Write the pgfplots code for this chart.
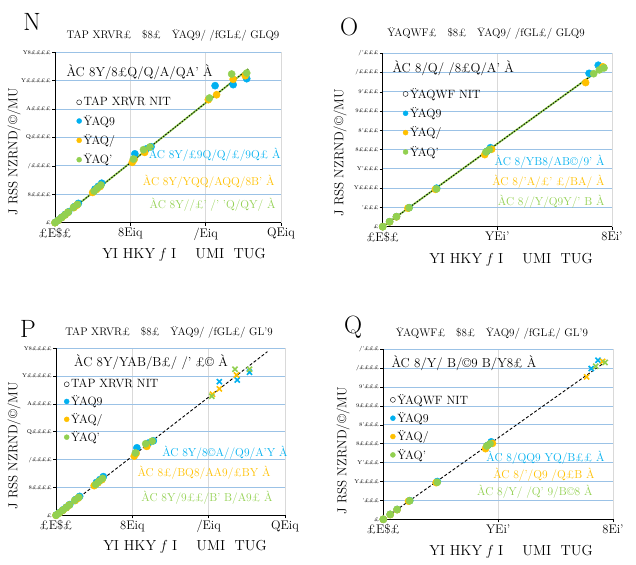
\documentclass[border=0pt]{standalone}
\usepackage{pgfplots}
\pgfplotsset{compat=1.18}
\definecolor{cblue}{RGB}{0,176,240}
\definecolor{corange}{RGB}{255,192,0}
\definecolor{cgreen}{RGB}{146,208,80}
\definecolor{hgrid}{RGB}{155,194,230}
\definecolor{vgrid}{RGB}{217,217,217}
\pgfplotsset{
 panel/.style={
  scale only axis, anchor=south west,
  axis x line*=bottom, axis y line*=left,
  axis line style={black, line width=0.8pt, -},
  tick align=outside, major tick length=3pt, tick style={black, line width=0.6pt},
  ymajorgrids, xmajorgrids,
  y grid style={hgrid, line width=0.8pt},
  x grid style={vgrid, line width=0.6pt},
  yticklabel style={font=\fontsize{5.5}{6}\selectfont, inner sep=1pt},
  xticklabel style={font=\fontsize{12.5}{14}\selectfont, inner sep=2pt},
  scaled y ticks=false, scaled x ticks=false, clip=false,
  legend style={draw=none, fill=none, font=\fontsize{12}{13}\selectfont, anchor=north west, row sep=3pt, inner sep=0pt},
  legend cell align=left,
  legend image code/.code={\draw[##1, mark size=2.5pt] plot coordinates {(0.1cm,0cm)};},
 },
 bigp/.style={xmin=0, xmax=6, ymin=0, ymax=120000, xtick={0,2,4,6},
  xticklabels={£E\$£, 8Eiq, /Eiq, QEiq},
  ytick={0,20000,40000,60000,80000,100000,120000},
  yticklabels={£, 8££££, /££££, Q££££, A££££, Y£££££, Y8££££}},
 smallp/.style={xmin=0, xmax=2, ymin=0, ymax=45000, xtick={0,1,2},
  xticklabels={£E\$£, YEi', 8Ei'},
  ytick={0,5000,10000,15000,20000,25000,30000,35000,40000,45000},
  yticklabels={£, '£££, Y££££, Y'£££, 8££££, 8'£££, 9££££, 9'£££, /££££, /'£££}},
 pb/.style={only marks, mark=*, mark size=3.6pt, mark options={draw=cblue, fill=cblue}, color=cblue},
 po/.style={only marks, mark=*, mark size=3.6pt, mark options={draw=corange, fill=corange}, color=corange},
 pg/.style={only marks, mark=*, mark size=3.6pt, mark options={draw=cgreen, fill=cgreen}, color=cgreen},
 xb/.style={only marks, mark=x, mark size=3.6pt, line width=1.6pt, color=cblue},
 xo/.style={only marks, mark=x, mark size=3.6pt, line width=1.6pt, color=corange},
 xg/.style={only marks, mark=x, mark size=3.6pt, line width=1.6pt, color=cgreen},
}
\begin{document}
\begin{tikzpicture}[x=1pt,y=1pt]
\useasboundingbox (0,0) rectangle (636,564);
% ---------- panel a ----------
\begin{axis}[panel, bigp, at={(55pt,341.3pt)}, width=226pt, height=170.4pt,
  legend style={at={(0.095,0.749)}, row sep=4pt}]
\addlegendimage{only marks, mark=o, black, thin}
\addlegendentry{TAP XRVR NIT}
\addplot[pb] coordinates {(0.01,300)(0.09,1900)(0.18,3900)(0.27,5800)(0.36,7700)(0.52,11400)(0.62,13600)(1.06,23600)(1.15,25600)(1.24,27800)(2.12,48500)(2.42,51900)(2.55,53500)(4.25,96500)(4.73,97200)(5.09,101400)};
\addlegendentry{ŸAQ9}
\addplot[po] coordinates {(0,0)(0.09,1700)(0.18,3600)(0.27,5500)(0.34,7200)(0.5,10600)(0.58,12300)(1.0,21300)(1.1,23400)(1.2,25500)(2.05,42500)(2.1,44500)(2.38,49500)(4.07,86600)(4.29,90100)(4.73,101000)(5.05,103500)};
\addlegendentry{ŸAQ/}
\addplot[pg] coordinates {(0,0)(0.08,1600)(0.17,3500)(0.26,5400)(0.35,7400)(0.49,10800)(0.6,12900)(1.04,22200)(1.13,24500)(1.22,26500)(2.08,44800)(2.35,51400)(2.52,53300)(4.1,87800)(4.69,104700)(5.09,105400)};
\addlegendentry{ŸAQ'}
\addplot[cgreen, line width=1.8pt, forget plot] coordinates {(0,0)(5.13,108200)};
\addplot[black, line width=0.8pt, dash pattern=on 1.5pt off 1.5pt, forget plot] coordinates {(0,0)(5.13,108200)};
\end{axis}
% ---------- panel b ----------
\begin{axis}[panel, smallp, at={(382.7pt,337.3pt)}, width=229.3pt, height=173.4pt,
  legend style={at={(0.088,0.811)}, row sep=4pt}]
\addlegendimage{only marks, mark=o, black, thin}
\addlegendentry{ŸAQWF NIT}
\addplot[pb] coordinates {(0,0)(0.06,1300)(0.12,2600)(0.23,4950)(0.47,10000)(0.91,19600)(0.94,20500)(1.80,39800)(1.88,41900)};
\addlegendentry{ŸAQ9}
\addplot[po] coordinates {(0,0)(0.06,1250)(0.12,2550)(0.22,4800)(0.46,9700)(0.89,18700)(0.95,20100)(1.77,37400)(1.92,41500)};
\addlegendentry{ŸAQ/}
\addplot[pg] coordinates {(0,0)(0.06,1300)(0.12,2600)(0.23,4900)(0.47,9800)(0.90,19400)(0.93,20000)(1.84,39700)(1.89,40700)(1.93,41200)};
\addlegendentry{ŸAQ'}
\addplot[cgreen, line width=1.8pt, forget plot] coordinates {(0,0)(1.95,42000)};
\addplot[black, line width=0.8pt, dash pattern=on 1.5pt off 1.5pt, forget plot] coordinates {(0,0)(1.95,42000)};
\end{axis}
% ---------- panel c ----------
\begin{axis}[panel, bigp, at={(56pt,48.7pt)}, width=229pt, height=167pt,
  legend style={at={(0.035,0.828)}, row sep=2.5pt}]
\addlegendimage{only marks, mark=o, black, thin}
\addlegendentry{TAP XRVR NIT}
\addplot[pb] coordinates {(0.01,300)(0.09,1900)(0.18,3900)(0.27,5800)(0.36,7700)(0.52,11400)(0.62,13600)(1.06,23600)(1.15,25600)(1.24,27800)(2.12,48500)(2.42,51900)(2.55,53500)};
\addlegendentry{ŸAQ9}
\addplot[po] coordinates {(0,0)(0.09,1700)(0.18,3600)(0.27,5500)(0.34,7200)(0.5,10600)(0.58,12300)(1.0,21300)(1.1,23400)(1.2,25500)(2.05,42500)(2.1,44500)(2.38,49500)};
\addlegendentry{ŸAQ/}
\addplot[pg] coordinates {(0,0)(0.08,1600)(0.17,3500)(0.26,5400)(0.35,7400)(0.49,10800)(0.6,12900)(1.04,22200)(1.13,24500)(1.22,26500)(2.08,44800)(2.35,51400)(2.52,53300)};
\addlegendentry{ŸAQ'}
\addplot[xb, forget plot] coordinates {(4.28,96000)(4.75,97200)(5.07,102800)};
\addplot[xo, forget plot] coordinates {(4.1,87000)(4.28,90800)(4.73,100800)};
\addplot[xg, forget plot] coordinates {(4.08,85500)(4.69,104900)(5.07,104900)};
\addplot[black, line width=0.9pt, dash pattern=on 3pt off 2pt, forget plot] coordinates {(0,0)(5.54,117600)};
\end{axis}
% ---------- panel d ----------
\begin{axis}[panel, smallp, at={(383.3pt,44.7pt)}, width=229.7pt, height=170pt,
  legend style={at={(0.03,0.749)}, row sep=3pt}]
\addlegendimage{only marks, mark=o, black, thin}
\addlegendentry{ŸAQWF NIT}
\addplot[pb] coordinates {(0,0)(0.06,1300)(0.12,2600)(0.23,4950)(0.47,10000)(0.91,19600)(0.94,20500)};
\addlegendentry{ŸAQ9}
\addplot[po] coordinates {(0,0)(0.06,1250)(0.12,2550)(0.22,4800)(0.46,9700)(0.89,18700)(0.95,20100)};
\addlegendentry{ŸAQ/}
\addplot[pg] coordinates {(0,0)(0.06,1300)(0.12,2600)(0.23,4900)(0.47,9800)(0.90,19400)(0.93,20000)};
\addlegendentry{ŸAQ'}
\addplot[xb, forget plot] coordinates {(1.81,39900)(1.87,42100)};
\addplot[xo, forget plot] coordinates {(1.77,37700)(1.91,41800)};
\addplot[xg, forget plot] coordinates {(1.85,40500)(1.93,41500)};
\addplot[black, line width=0.9pt, dash pattern=on 3pt off 2pt, forget plot] coordinates {(0,0)(1.956,42150)};
\end{axis}
% ---------- texts ----------
\tikzset{lett/.style={font=\fontsize{25}{25}\selectfont},
 ttl/.style={font=\fontsize{11}{12}\selectfont},
 lab/.style={font=\fontsize{14.5}{15}\selectfont},
 ylab/.style={font=\fontsize{13}{14}\selectfont, rotate=90},
 eqk/.style={font=\fontsize{13}{14}\selectfont},
 eqc/.style={font=\fontsize{11.5}{12}\selectfont, anchor=east}}
% a
\node[lett] at (32,542) {N};
\node[ttl] at (173,529) {TAP XRVR£ \ \ \$8£ \ \ ŸAQ9/ /fGL£/ GLQ9};
\node[eqk, anchor=west] at (63,492) {ÀC 8Y/8£Q/Q/A/QA' À};
\node[eqc, cblue] at (284,409) {ÀC 8Y/£9Q/Q/£/9Q£ À};
\node[eqc, corange] at (278,382) {ÀC 8Y/YQQ/AQQ/8B' À};
\node[eqc, cgreen] at (279,359) {ÀC 8Y//£' /' 'Q/QY/ À};
\node[lab] at (184,309) {YI HKY \textit{f} I \quad UMI \ TUG};
\node[ylab] at (14,412) {J RSS NZRND/©/MU};
% b
\node[lett] at (349,537) {O};
\node[ttl] at (486,531) {ŸAQWF£ \ \ \$8£ \ \ ŸAQ9/ /fGL£/ GLQ9};
\node[eqk, anchor=west] at (389,496) {ÀC 8/Q/ /8£Q/A' À};
\node[eqc, cblue] at (608,402) {ÀC 8/YB8/AB©/9' À};
\node[eqc, corange] at (608,382) {ÀC 8/'A/£' £/BA/ À};
\node[eqc, cgreen] at (608,362) {ÀC 8//Y/Q9Y/' B À};
\node[lab] at (511,304) {YI HKY \textit{f} I \quad UMI \ TUG};
\node[ylab] at (340,411) {J RSS NZRND/©/MU};
% c
\node[lett] at (28,235) {P};
\node[ttl] at (169,232) {TAP XRVR£ \ \ \$8£ \ \ ŸAQ9/ /fGL£/ GL'9};
\node[eqk] at (151,202) {ÀC 8Y/YAB/B£/ /' £© À};
\node[eqc, cblue] at (291,111) {ÀC 8Y/8©A//Q9/A'Y À};
\node[eqc, corange] at (274,91) {ÀC 8£/BQ8/AA9/£BY À};
\node[eqc, cgreen] at (276,66) {ÀC 8Y/9££/B' B/A9£ À};
\node[lab] at (185,17) {YI HKY \textit{f} I \quad UMI \ TUG};
\node[ylab] at (14,118) {J RSS NZRND/©/MU};
% d
\node[lett] at (353,237) {Q};
\node[ttl] at (492,231) {ŸAQWF£ \ \ \$8£ \ \ ŸAQ9/ /fGL£/ GL'9};
\node[eqk] at (464,201) {ÀC 8/Y/ B/©9 B/Y8£ À};
\node[eqc, cblue] at (608,106) {ÀC 8/QQ9 YQ/B££ À};
\node[eqc, corange] at (598,89) {ÀC 8/'/Q9 /Q£B À};
\node[eqc, cgreen] at (596,72) {ÀC 8/Y/ /Q' 9/B©8 À};
\node[lab] at (511,12) {YI HKY \textit{f} I \quad UMI \ TUG};
\node[ylab] at (343,113) {J RSS NZRND/©/MU};
\end{tikzpicture}
\end{document}
